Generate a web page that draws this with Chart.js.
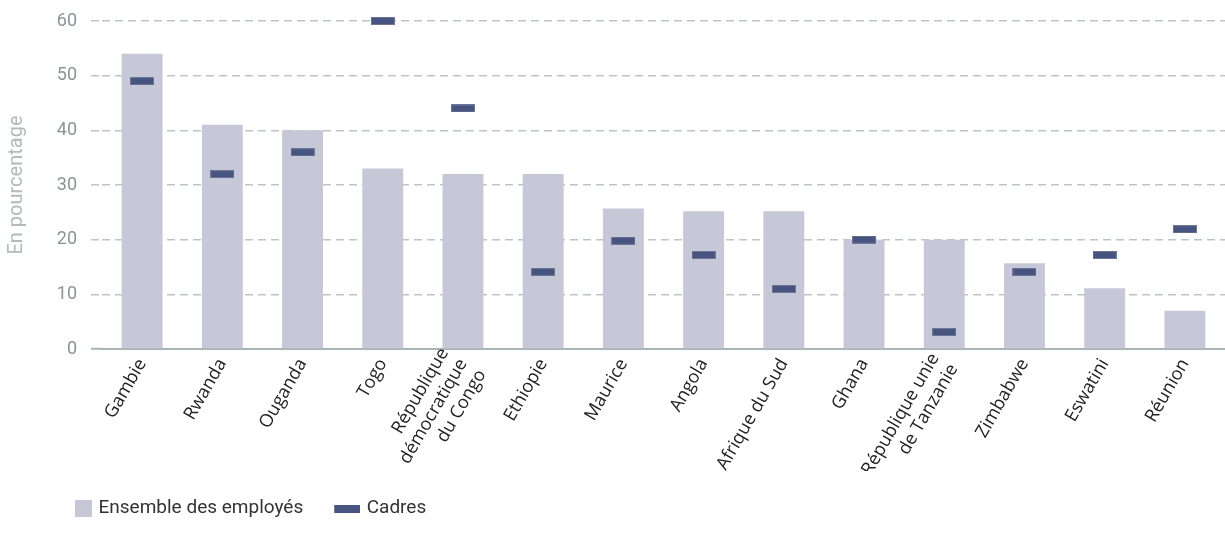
<!DOCTYPE html>
<html>
<head>
<meta charset="utf-8">
<script src="https://cdn.jsdelivr.net/npm/chart.js@4/dist/chart.umd.min.js"></script>
<style>
  html, body { margin: 0; padding: 0; background: #ffffff; overflow: hidden; }
  #c { display: block; }
</style>
</head>
<body>
<canvas id="c" width="1232" height="540" style="width:1232px;height:540px"></canvas>
<script>
// ---- data ----
const categories = [
  'Gambie', 'Rwanda', 'Ouganda', 'Togo',
  ['République', 'démocratique', 'du Congo'],
  'Ethiopie', 'Maurice', 'Angola', 'Afrique du Sud', 'Ghana',
  ['République unie', 'de Tanzanie'],
  'Zimbabwe', 'Eswatini', 'Réunion'
];
const ensembleValues = [54, 41, 40, 33, 32, 32, 25.7, 25.2, 25.2, 20, 20, 15.7, 11.1, 7];
const cadresValues   = [49, 32, 36, 60, 44, 14.1, 19.8, 17.2, 11, 20, 3.1, 14.1, 17.2, 21.9];
const yTicks = [0, 10, 20, 30, 40, 50, 60];
const seriesNames = ['Ensemble des employés', 'Cadres'];
const yTitle = 'En pourcentage';

// ---- styles ----
const BAR_COLOR = '#c6c8d8';
const MARK_COLOR = '#47547f';
const GRID_COLOR = '#bcc5c5';
const AXIS_COLOR = '#aab4b4';

function makeCanvas(w, h, draw) {
  const cv = document.createElement('canvas');
  cv.width = w; cv.height = h;
  draw(cv.getContext('2d'));
  return cv;
}
const markImg = makeCanvas(24, 8, (g) => {
  g.fillStyle = '#6c7699'; g.fillRect(0, 0, 24, 8);
  g.fillStyle = MARK_COLOR; g.fillRect(1, 1, 22, 6);
});
const legendSquare = makeCanvas(32, 17, (g) => {
  g.fillStyle = BAR_COLOR; g.fillRect(15, 0, 17, 17);
});
const legendRect = makeCanvas(32, 8, (g) => {
  g.fillStyle = MARK_COLOR; g.fillRect(6, 0, 26, 8);
});

const Y_LEFT = 102;
const PAD_LEFT = 35;

// centre multi-line rotated category labels on their tick
const centerMultiline = {
  id: 'centerMultiline',
  beforeDraw(chart) {
    const s = chart.scales.x;
    const items = s.getLabelItems(chart.chartArea);
    items.forEach(it => {
      if (Array.isArray(it.label) && !it._centered) {
        const lh = it.font.lineHeight;
        it.textOffset = lh / 2 - (it.label.length - 1) * lh / 2;
        it._centered = true;
      }
    });
  }
};

new Chart(document.getElementById('c'), {
  data: {
    labels: categories,
    datasets: [
      {
        type: 'bar',
        label: seriesNames[0],
        data: ensembleValues,
        backgroundColor: BAR_COLOR,
        borderWidth: 0,
        barPercentage: 0.51,
        categoryPercentage: 1.0,
        order: 1
      },
      {
        type: 'line',
        label: seriesNames[1],
        data: cadresValues,
        showLine: false,
        pointStyle: markImg,
        pointRadius: 6,
        pointHoverRadius: 6,
        borderColor: MARK_COLOR,
        backgroundColor: MARK_COLOR,
        clip: false,
        order: 0
      }
    ]
  },
  plugins: [centerMultiline],
  options: {
    responsive: false,
    animation: false,
    layout: { padding: { top: 21, left: PAD_LEFT, right: 0, bottom: 12 } },
    plugins: {
      tooltip: { enabled: false },
      legend: {
        display: true,
        position: 'bottom',
        align: 'start',
        labels: {
          usePointStyle: true,
          pointStyleWidth: 26,
          padding: 28,
          color: '#333333',
          font: { family: 'Roboto', size: 19 },
          sort: (a, b) => a.datasetIndex - b.datasetIndex,
          generateLabels: (chart) => {
            const items = Chart.defaults.plugins.legend.labels.generateLabels(chart);
            items.forEach(it => {
              it.pointStyle = it.datasetIndex === 0 ? legendSquare : legendRect;
            });
            return items;
          }
        }
      }
    },
    scales: {
      x: {
        type: 'category',
        grid: { display: false, drawTicks: false },
        border: { display: true, color: AXIS_COLOR, width: 2 },
        ticks: {
          autoSkip: false,
          minRotation: 60,
          maxRotation: 60,
          padding: 6,
          color: '#222222',
          font: { family: 'Open Sans', size: 18 }
        },
        afterFit: (s) => { s.height = 122; }
      },
      y: {
        type: 'linear',
        min: yTicks[0],
        max: yTicks[yTicks.length - 1],
        afterBuildTicks: (s) => { s.ticks = yTicks.map(v => ({ value: v })); },
        afterFit: (s) => {
          s.width = Y_LEFT - PAD_LEFT;
          s.paddingTop = 0;
          s.paddingBottom = 0;
        },
        border: { display: false, dash: [8, 5] },
        grid: {
          color: (c) => c.tick && c.tick.value === 0 ? 'rgba(0,0,0,0)' : GRID_COLOR,
          lineWidth: 1.5,
          drawTicks: true,
          tickLength: 11,
          tickWidth: (c) => c.tick && c.tick.value === 0 ? 2 : 1.5,
          tickColor: (c) => c.tick && c.tick.value === 0 ? AXIS_COLOR : GRID_COLOR,
          tickBorderDash: (c) => c.tick && c.tick.value === 0 ? [] : [8, 5]
        },
        ticks: {
          padding: 14,
          color: '#8a9494',
          font: { family: 'Roboto', size: 18 }
        },
        title: {
          display: true,
          text: yTitle,
          color: '#b2baba',
          font: { family: 'Roboto', size: 20 },
          padding: { top: -30, bottom: 0 }
        }
      }
    }
  }
});
</script>
</body>
</html>
